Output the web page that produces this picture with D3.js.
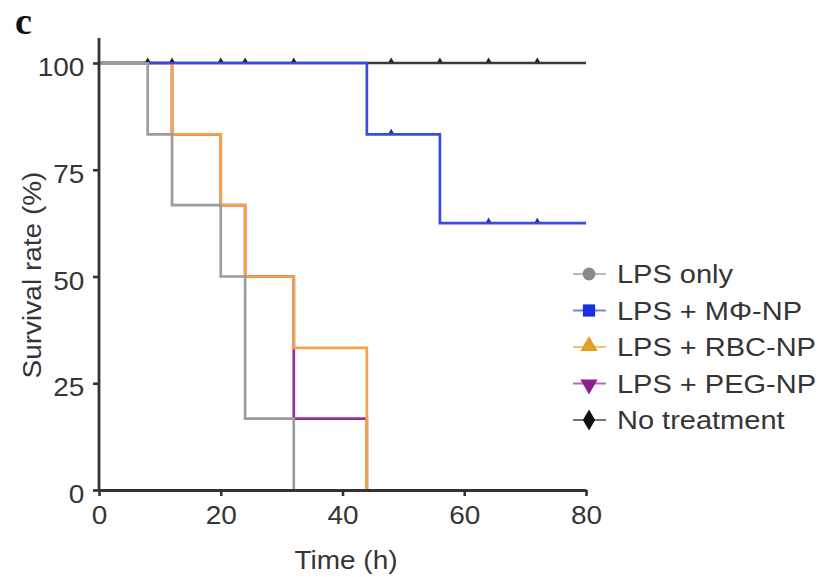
<!DOCTYPE html>
<html>
<head>
<meta charset="utf-8">
<script src="https://cdn.jsdelivr.net/npm/d3@7"></script>
<style>
  body { margin: 0; background: #fff; }
  svg { font-family: "Liberation Sans", Arial, sans-serif; }
</style>
</head>
<body>
<div id="chart"></div>
<script>
(function() {
  // Survival curves: [time (h), survival (%)]
  const lpsOnly = [[0, 100], [8, 83.3], [12, 66.7], [20, 50], [24, 16.7], [32, 0]];
  const lpsMacNp = [[0, 100], [44, 83.3], [56, 62.5], [80, 62.5]];
  const lpsRbcNp = [[0, 100], [12, 83.3], [20, 66.7], [24, 50], [32, 33.3], [44, 0]];
  const lpsPegNp = [[0, 100], [12, 83.3], [20, 66.7], [24, 50], [32, 16.7], [44, 0]];
  const noTreatment = [[0, 100], [80, 100]];

  // Censor marks
  const blackCensor = [[8, 100], [12, 100], [20, 100], [24, 100], [32, 100], [48, 100], [56, 100], [64, 100], [72, 100]];
  const blueCensor = [[48, 83.3], [64, 62.5], [72, 62.5]];

  const xTicks = [0, 20, 40, 60, 80];
  const yTicks = [0, 25, 50, 75, 100];

  const legendLabels = ["LPS only", "LPS + M\u03A6-NP", "LPS + RBC-NP", "LPS + PEG-NP", "No treatment"];
  const legendSymbols = [d3.symbolCircle, d3.symbolSquare, d3.symbolTriangle, d3.symbolTriangle, d3.symbolDiamond];
  const colors = ["#9c9c9c", "#3a4ce0", "#f3a444", "#9c2c9c", "#3a3a3a"];
  const markerColors = ["#8a8a8a", "#1a2fe0", "#e0a028", "#8a2090", "#111"];

  const textColor = "#353535";
  const stretch = 1.12;

  const width = 824, height = 577;
  const svg = d3.select("#chart").append("svg")
    .attr("width", width)
    .attr("height", height);

  const x = d3.scaleLinear().domain([0, 80]).range([99, 586]);
  const y = d3.scaleLinear().domain([0, 100]).range([490, 63]);

  // panel letter
  svg.append("text")
    .attr("x", 15).attr("y", 34)
    .attr("fill", "#111")
    .style("font-family", "'Liberation Serif', 'DejaVu Serif', serif")
    .style("font-weight", "bold")
    .style("font-size", "38px")
    .text("c");

  // step line generator
  const line = d3.line()
    .x(d => x(d[0]))
    .y(d => y(d[1]))
    .curve(d3.curveStepAfter);

  // draw order: black, purple, orange, blue, grey
  const order = [
    { data: noTreatment, color: colors[4] },
    { data: lpsPegNp, color: colors[3] },
    { data: lpsRbcNp, color: colors[2] },
    { data: lpsMacNp, color: colors[1] },
    { data: lpsOnly, color: colors[0] }
  ];

  order.forEach(s => {
    svg.append("path")
      .datum(s.data)
      .attr("d", line)
      .attr("fill", "none")
      .attr("stroke", s.color)
      .attr("stroke-width", 2.7);
  });

  // censor ticks
  function censor(data, color) {
    svg.selectAll(null)
      .data(data)
      .enter()
      .append("path")
      .attr("transform", d => `translate(${x(d[0])},${y(d[1]) - 2.5})`)
      .attr("d", d3.symbol().type(d3.symbolTriangle).size(12))
      .attr("fill", color);
  }
  censor(blackCensor, "#222");
  censor(blueCensor, "#2a3090");

  // axes
  const xAxis = svg.append("g")
    .attr("transform", "translate(0,490)")
    .call(d3.axisBottom(x).tickValues(xTicks).tickSize(6).tickSizeOuter(0).tickPadding(10));
  const yAxis = svg.append("g")
    .attr("transform", "translate(99,0)")
    .call(d3.axisLeft(y).tickValues(yTicks).tickSize(6).tickSizeOuter(0).tickPadding(7));

  [xAxis, yAxis].forEach(g => {
    g.select(".domain").attr("stroke", "#333").attr("stroke-width", 2.8);
    g.selectAll(".tick line").attr("stroke", "#333").attr("stroke-width", 2.6);
    g.selectAll(".tick text")
      .attr("fill", textColor)
      .style("font-size", "25px")
      .style("font-family", "'Liberation Sans', Arial, sans-serif");
  });
  // y axis extends above 100, x axis starts at the y axis
  yAxis.select(".domain").attr("d", "M0,38V491");
  xAxis.selectAll(".tick text").attr("dy", "0.71em")
    .attr("transform", `scale(${stretch},1)`);
  yAxis.selectAll(".tick text").attr("dy", "0.5em")
    .attr("transform", `scale(${stretch},1)`);

  // axis titles
  svg.append("text")
    .attr("transform", `translate(346,569) scale(${stretch},1)`)
    .attr("text-anchor", "middle")
    .attr("fill", textColor)
    .style("font-size", "25px")
    .text("Time (h)");

  svg.append("text")
    .attr("transform", `translate(41,275) rotate(-90) scale(${stretch},1)`)
    .attr("text-anchor", "middle")
    .attr("fill", textColor)
    .style("font-size", "25px")
    .text("Survival rate (%)");

  // legend
  const legend = svg.append("g").attr("transform", "translate(589,274)");
  legendLabels.forEach((label, i) => {
    const g = legend.append("g").attr("transform", `translate(0,${i * 36.5})`);
    g.append("line")
      .attr("x1", -16).attr("x2", 17)
      .attr("stroke", colors[i])
      .attr("stroke-opacity", 0.7)
      .attr("stroke-width", 2);
    g.append("path")
      .attr("d", d3.symbol().type(legendSymbols[i]).size(i === 1 ? 150 : 130))
      .attr("transform", i === 3 ? "translate(0,1) rotate(180)" : i === 2 ? "translate(0,-1)" : null)
      .attr("fill", markerColors[i]);
    g.append("text")
      .attr("transform", `translate(28,0) scale(${stretch + 0.04},1)`)
      .attr("dy", "0.36em")
      .attr("fill", textColor)
      .style("font-size", "25px")
      .text(label);
  });
})();
</script>
</body>
</html>
